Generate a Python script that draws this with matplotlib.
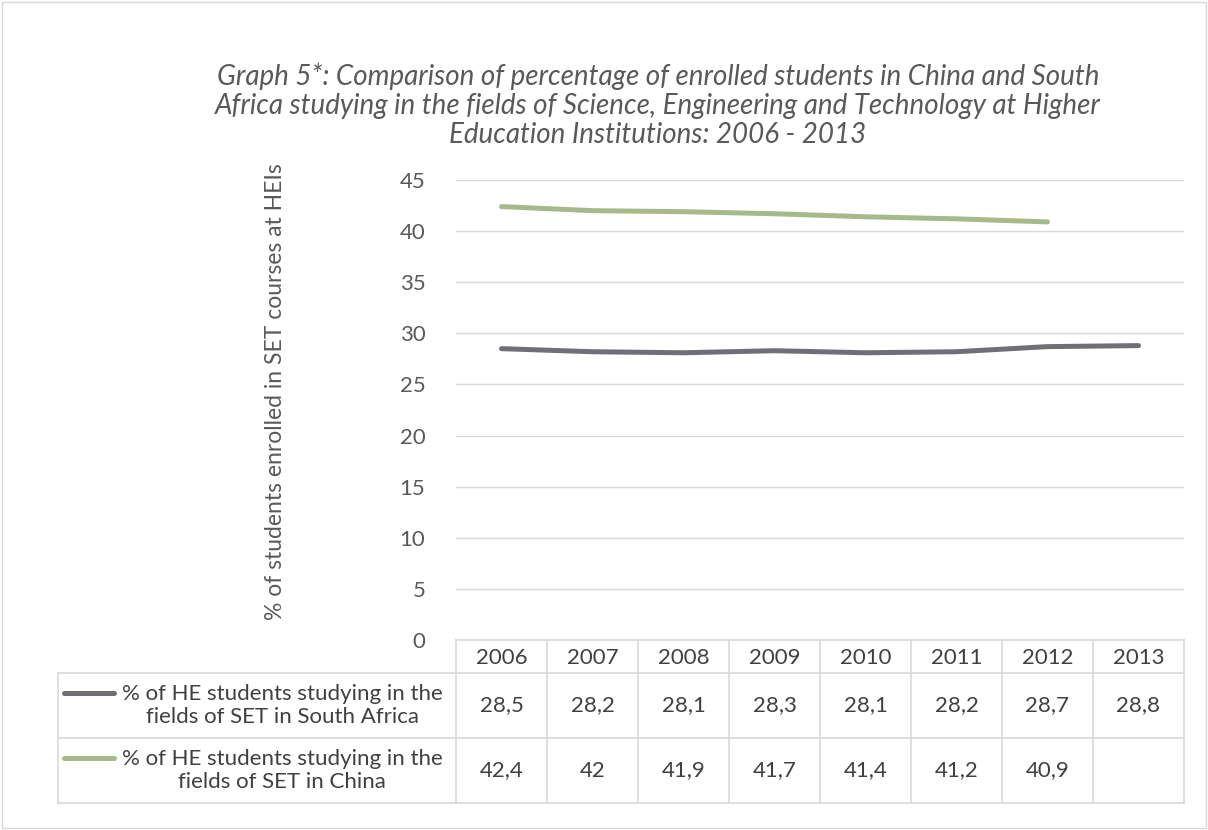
import matplotlib.pyplot as plt
import matplotlib.transforms as mtransforms
from matplotlib.lines import Line2D
from matplotlib.patches import Rectangle

plt.rcParams['font.family'] = ['Lato', 'DejaVu Sans']

years = ['2006', '2007', '2008', '2009', '2010', '2011', '2012', '2013']
south_africa = [28.5, 28.2, 28.1, 28.3, 28.1, 28.2, 28.7, 28.8]
china = [42.4, 42.0, 41.9, 41.7, 41.4, 41.2, 40.9, None]
series_names = ['% of HE students studying in the\nfields of SET in South Africa',
                '% of HE students studying in the\nfields of SET in China']
series_colors = ['#6f6f75', '#a6b98b']
title = ('Graph 5*: Comparison of percentage of enrolled students in China and South\n'
         'Africa studying in the fields of Science, Engineering and Technology at Higher\n'
         'Education Institutions: 2006 - 2013')
ylabel = '% of students enrolled in SET courses at HEIs'

W, H = 1208, 830
fig = plt.figure(figsize=(W / 100, H / 100), dpi=100)
fig.patches.append(Rectangle((2 / W, 2 / H), 1204 / W, 826 / H, transform=fig.transFigure,
                             fill=False, edgecolor='#d9d9d9', lw=1))

# plot area in pixel coords
left, right, top, bottom = 456, 1184, 180, 640
ax = fig.add_axes([left / W, 1 - bottom / H, (right - left) / W, (bottom - top) / H])

x = list(range(len(years)))
ax.plot(x, south_africa, color=series_colors[0], lw=3.6, solid_capstyle='round')
cx = [i for i, v in enumerate(china) if v is not None]
ax.plot(cx, [china[i] for i in cx], color=series_colors[1], lw=3.6, solid_capstyle='round')

ax.set_xlim(-0.5, len(years) - 0.5)
ax.set_ylim(0, 45)
ax.set_yticks(range(0, 46, 5))
ax.set_xticks([])
ax.grid(axis='y', color='#d9d9d9', lw=1)
ax.set_axisbelow(True)
for s in ax.spines.values():
    s.set_visible(False)
ax.tick_params(axis='y', length=0, pad=22, labelsize=16, labelcolor='#595959')

fig.text(275 / W, 1 - 392 / H, ylabel, rotation=90, ha='center', va='center',
         fontsize=16.5, color='#595959')
fig.text(658 / W, 1 - 105 / H, title, ha='center', va='center', fontsize=20,
         style='italic', color='#595959', linespacing=1.15)

# data table below the plot
tr = mtransforms.blended_transform_factory(ax.transData, fig.transFigure)
fy = lambda py: 1 - py / H
grid_c = '#d9d9d9'
row_y = [640, 673, 738, 803]
x0 = -0.5 - (left - 58) / ((right - left) / len(years))
xend = len(years) - 0.5
for i, py in enumerate(row_y):
    xs = -0.5 if i == 0 else x0
    ax.add_line(Line2D([xs, xend], [fy(py), fy(py)], transform=tr, color=grid_c, lw=1.2, clip_on=False))
for k in range(len(years) + 1):
    ax.add_line(Line2D([k - 0.5, k - 0.5], [fy(640), fy(803)], transform=tr, color=grid_c, lw=1.2, clip_on=False))
ax.add_line(Line2D([x0, x0], [fy(673), fy(803)], transform=tr, color=grid_c, lw=1.2, clip_on=False))

for i, yr in enumerate(years):
    ax.text(i, fy(658), yr, transform=tr, ha='center', va='center', fontsize=16, color='#404040')

def fmt(v):
    if v is None:
        return ''
    return f'{v:g}'.replace('.', ',')

for r, vals in enumerate([south_africa, china]):
    yc = fy((row_y[r + 1] + row_y[r + 2]) / 2)
    for i, v in enumerate(vals):
        ax.text(i, yc, fmt(v), transform=tr, ha='center', va='center', fontsize=16, color='#404040')
    fig.add_artist(Line2D([64 / W, 114 / W], [yc + 13 / H, yc + 13 / H], color=series_colors[r],
                          lw=3.6, solid_capstyle='round'))
    fig.text(282 / W, yc, series_names[r], ha='center', va='center', fontsize=16,
             color='#404040', multialignment='center', linespacing=1.15)

fig.savefig('out.png', dpi=100)
